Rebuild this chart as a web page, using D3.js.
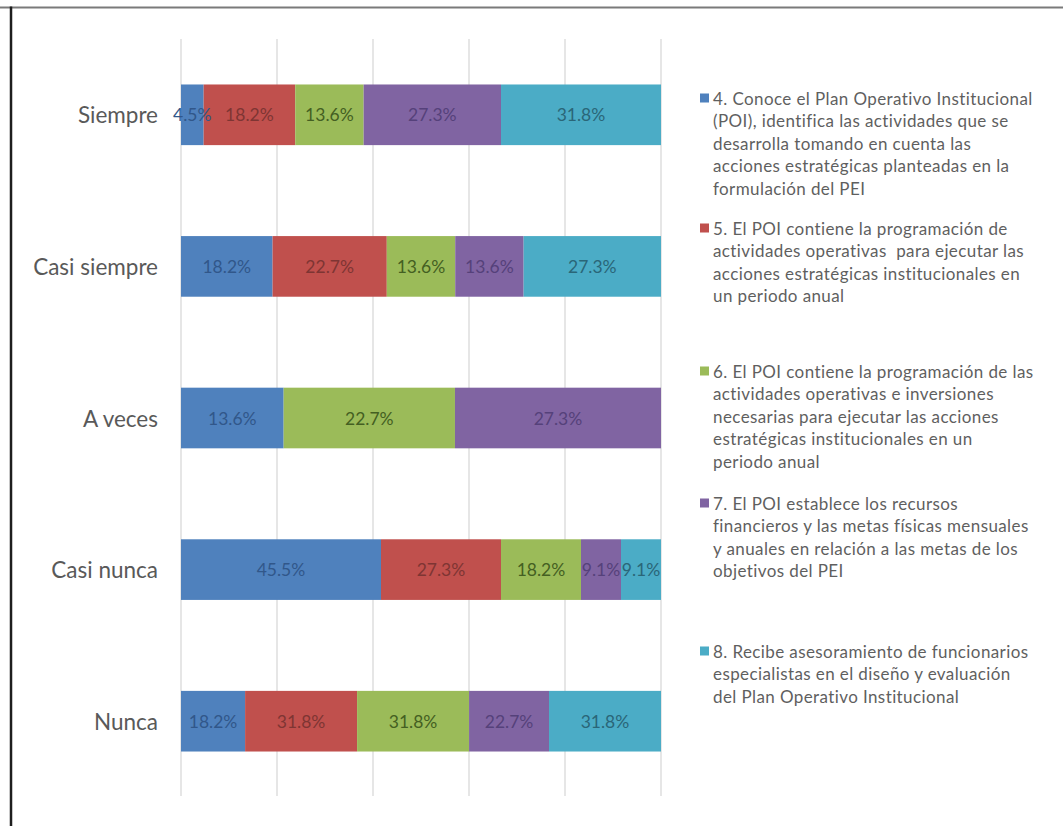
<!DOCTYPE html>
<html>
<head>
<meta charset="utf-8">
<script src="https://cdn.jsdelivr.net/npm/d3@7"></script>
<style>
  html, body { margin: 0; padding: 0; background: #fff; }
  svg { display: block; }
  text { font-family: Lato, "Open Sans", sans-serif; }
</style>
</head>
<body>
<svg id="chart" width="1063" height="826"></svg>
<script>
// Response categories (top to bottom)
const categories = ["Siempre", "Casi siempre", "A veces", "Casi nunca", "Nunca"];

// Survey items (series)
const seriesKeys = ["p4", "p5", "p6", "p7", "p8"];

// Percentage of answers per item, in category order
const p4 = [4.5, 18.2, 13.6, 45.5, 18.2];
const p5 = [18.2, 22.7, 0, 27.3, 31.8];
const p6 = [13.6, 13.6, 22.7, 18.2, 31.8];
const p7 = [27.3, 13.6, 27.3, 9.1, 22.7];
const p8 = [31.8, 27.3, 0, 9.1, 31.8];

const legendLabels = [
  ["4. Conoce el Plan Operativo Institucional", "(POI), identifica las actividades que se", "desarrolla tomando en cuenta las", "acciones estratégicas planteadas en la", "formulación del PEI"],
  ["5. El POI contiene la programación de", "actividades operativas\u00a0\u00a0para ejecutar las", "acciones estratégicas institucionales en", "un periodo anual"],
  ["6. El POI contiene la programación de las", "actividades operativas e inversiones", "necesarias para ejecutar las acciones", "estratégicas institucionales en un", "periodo anual"],
  ["7. El POI establece los recursos", "financieros y las metas físicas mensuales", "y anuales en relación a las metas de los", "objetivos del PEI"],
  ["8. Recibe asesoramiento de funcionarios", "especialistas en el diseño y evaluación", "del Plan Operativo Institucional"]
];

const fills = ["#4f81bd", "#c0504d", "#9bbb59", "#8064a2", "#4bacc6"];
const labelInk = ["#31578a", "#7e3533", "#445f22", "#55417a", "#2a6678"];

// Build rows for a 100% stack (each row normalised by its own total)
const seriesVals = { p4, p5, p6, p7, p8 };
const rows = categories.map((c, i) => {
  const r = { category: c };
  seriesKeys.forEach(k => { r[k] = seriesVals[k][i]; });
  return r;
});

const stack = d3.stack().keys(seriesKeys).offset(d3.stackOffsetExpand);
const layers = stack(rows);

const svg = d3.select("#chart");

// Frame lines
svg.append("line").attr("x1", 0).attr("x2", 1063).attr("y1", 7.5).attr("y2", 7.5)
  .attr("stroke", "#7a7a7a").attr("stroke-width", 2);
svg.append("line").attr("x1", 11).attr("x2", 11).attr("y1", 6.5).attr("y2", 826)
  .attr("stroke", "#1e1e1e").attr("stroke-width", 2.5);

const x = d3.scaleLinear().domain([0, 1]).range([181, 661]);
const y = d3.scaleBand().domain(categories).range([39, 797]).paddingInner(0.6).paddingOuter(0.3);

// Vertical gridlines
svg.append("g").selectAll("line").data(x.ticks(5)).join("line")
  .attr("x1", d => x(d)).attr("x2", d => x(d))
  .attr("y1", 39).attr("y2", 796)
  .attr("stroke", "#d9d9d9").attr("stroke-width", 1.3);

// Bars
const g = svg.append("g");
layers.forEach((layer, li) => {
  const lg = g.append("g");
  lg.selectAll("rect").data(layer.filter(d => d.data[layer.key] > 0)).join("rect")
    .attr("x", d => x(d[0]))
    .attr("y", d => y(d.data.category))
    .attr("width", d => x(d[1]) - x(d[0]))
    .attr("height", y.bandwidth())
    .attr("fill", fills[li]);
});

// Value labels
layers.forEach((layer, li) => {
  g.append("g").selectAll("text").data(layer.filter(d => d.data[layer.key] > 0)).join("text")
    .attr("x", d => (x(d[0]) + x(d[1])) / 2)
    .attr("y", d => y(d.data.category) + y.bandwidth() / 2)
    .attr("text-anchor", "middle")
    .attr("dominant-baseline", "central")
    .attr("font-size", 17.5)
    .attr("fill", labelInk[li])
    .text(d => d3.format(".1f")(d.data[layer.key]) + "%");
});

// Category labels
svg.append("g").selectAll("text").data(categories).join("text")
  .attr("x", 158)
  .attr("y", d => y(d) + y.bandwidth() / 2)
  .attr("text-anchor", "end")
  .attr("dominant-baseline", "central")
  .attr("font-size", 22.5)
  .attr("fill", "#595959")
  .text(d => d);

// Legend
const legendTop = [98, 228, 371, 503, 651];
const lineStep = 22.5;
const legend = svg.append("g");
legendLabels.forEach((lines, i) => {
  const item = legend.append("g");
  item.append("rect").attr("x", 700).attr("y", legendTop[i] - 4.5).attr("width", 9).attr("height", 9)
    .attr("fill", fills[i]);
  item.selectAll("text").data(lines).join("text")
    .attr("x", 713)
    .attr("y", (d, j) => legendTop[i] + j * lineStep)
    .attr("dominant-baseline", "central")
    .attr("font-size", 17)
    .attr("letter-spacing", 0.4)
    .attr("fill", "#5f5f5f")
    .text(d => d);
});
</script>
</body>
</html>
